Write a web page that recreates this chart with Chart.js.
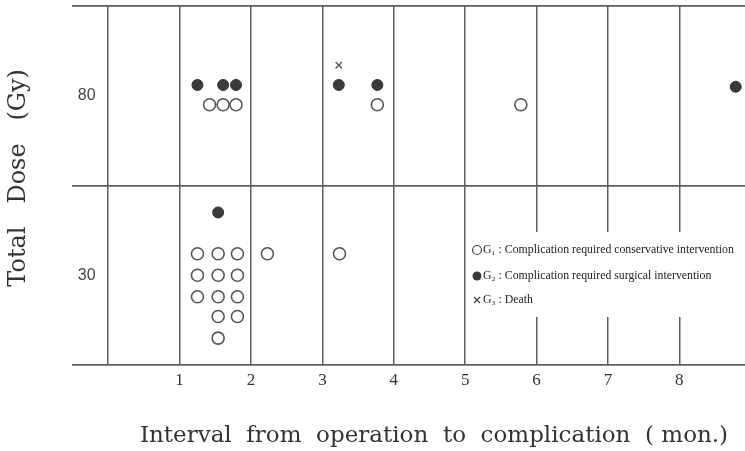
<!DOCTYPE html>
<html>
<head>
<meta charset="utf-8">
<script src="https://cdn.jsdelivr.net/npm/chart.js@4/dist/chart.umd.min.js"></script>
<style>
    body { margin: 0; background: #fff; }
</style>
</head>
<body>
<canvas id="chart" width="745" height="451"></canvas>
<script>
// interval (months) and dose band position
const conservativeX = [1.42, 1.61, 1.79, 3.77, 5.78,
    1.25, 1.54, 1.81, 2.23, 3.24,
    1.25, 1.54, 1.81,
    1.25, 1.54, 1.81,
    1.54, 1.81,
    1.54];
const conservativeY = [1.45, 1.45, 1.45, 1.45, 1.45,
    0.62, 0.62, 0.62, 0.62, 0.62,
    0.50, 0.50, 0.50,
    0.38, 0.38, 0.38,
    0.27, 0.27,
    0.15];
const surgicalX = [1.25, 1.61, 1.79, 3.23, 3.77, 8.79, 1.54];
const surgicalY = [1.56, 1.56, 1.56, 1.56, 1.56, 1.55, 0.85];
const deathX = [3.23];
const deathY = [1.67];

const doseLabels = ['30', '80'];
const monthTicks = [0, 1, 2, 3, 4, 5, 6, 7, 8];
const legendLabels = [
    'G\u2081 : Complication required conservative intervention',
    'G\u2082 : Complication required surgical intervention',
    'G\u2083 : Death'
];

document.addEventListener('DOMContentLoaded', () => {
    const ctx = document.getElementById('chart').getContext('2d');
    const lineColor = '#5e5e5e';

    const toPoints = (xs, ys) => xs.map((x, i) => ({ x, y: ys[i] }));

    // legend sits in a white box over the lower right grid lines
    const legendBox = {
        id: 'legendBox',
        afterDraw(chart) {
            const c = chart.ctx;
            c.save();
            c.fillStyle = '#fff';
            c.fillRect(469, 232, 276, 85);
            c.font = '11.8px "Liberation Serif"';
            c.fillStyle = '#222';
            c.textBaseline = 'middle';
            const rows = [250, 276, 300];
            rows.forEach((y, i) => {
                c.strokeStyle = '#444';
                c.lineWidth = 1.2;
                if (i === 0) {
                    c.beginPath();
                    c.arc(477, y, 4.5, 0, Math.PI * 2);
                    c.stroke();
                } else if (i === 1) {
                    c.beginPath();
                    c.arc(477, y, 4.5, 0, Math.PI * 2);
                    c.fillStyle = '#3a3a3a';
                    c.fill();
                    c.fillStyle = '#222';
                } else {
                    c.beginPath();
                    c.moveTo(474, y - 3);
                    c.lineTo(480, y + 3);
                    c.moveTo(480, y - 3);
                    c.lineTo(474, y + 3);
                    c.stroke();
                }
                c.fillText(legendLabels[i], 483, y);
            });
            c.restore();
        }
    };

    new Chart(ctx, {
        type: 'scatter',
        data: {
            datasets: [{
                label: 'G1',
                data: toPoints(conservativeX, conservativeY),
                pointStyle: 'circle',
                pointRadius: 6,
                backgroundColor: 'rgba(255,255,255,0)',
                borderColor: '#555',
                borderWidth: 1.6
            }, {
                label: 'G2',
                data: toPoints(surgicalX, surgicalY),
                pointStyle: 'circle',
                pointRadius: 5.5,
                backgroundColor: '#3b3b3b',
                borderColor: '#333',
                borderWidth: 1
            }, {
                label: 'G3',
                data: toPoints(deathX, deathY),
                pointStyle: 'crossRot',
                pointRadius: 4.5,
                borderColor: '#555',
                borderWidth: 1.3
            }]
        },
        options: {
            responsive: false,
            animation: false,
            devicePixelRatio: 1,
            layout: { autoPadding: false, padding: { top: 0, left: 0, right: 0, bottom: 0 } },
            plugins: {
                legend: { display: false },
                tooltip: { enabled: false }
            },
            scales: {
                x: {
                    type: 'linear',
                    min: -0.51,
                    max: 8.92,
                    afterBuildTicks: (scale) => {
                        scale.ticks = monthTicks.map(v => ({ value: v }));
                    },
                    border: { display: false },
                    grid: { color: lineColor, lineWidth: 1.5, drawTicks: false },
                    ticks: {
                        padding: 5,
                        color: '#333',
                        font: { family: '"Liberation Serif"', size: 17 },
                        callback: (v) => v === 0 ? '' : v
                    },
                    title: {
                        display: true,
                        text: '       Interval  from  operation  to  complication  ( mon.)',
                        color: '#333',
                        font: { family: '"DejaVu Serif"', size: 23 },
                        padding: { top: 27, bottom: 1 }
                    }
                },
                y: {
                    type: 'linear',
                    min: 0,
                    max: 2,
                    afterBuildTicks: (scale) => {
                        scale.ticks = [0, 0.5, 1, 1.5, 2].map(v => ({ value: v }));
                    },
                    border: { display: false },
                    grid: {
                        color: (c) => Number.isInteger(c.tick.value) ? lineColor : 'rgba(0,0,0,0)',
                        lineWidth: 1.8,
                        drawTicks: false
                    },
                    ticks: {
                        mirror: true,
                        padding: 6,
                        color: '#444',
                        // grid-only ticks get a tiny font so they add no edge padding
                        font: (c) => c.tick && Number.isInteger(c.tick.value)
                            ? { family: '"Liberation Sans"', size: 1, lineHeight: 0 }
                            : { family: '"Liberation Sans"', size: 16 },
                        callback: (v) => Number.isInteger(v) ? '' : doseLabels[Math.floor(v)]
                    },
                    title: {
                        display: true,
                        text: '  Total   Dose   (Gy)',
                        color: '#333',
                        font: { family: '"DejaVu Serif"', size: 24 },
                        padding: { top: 4, bottom: 27 }
                    }
                }
            }
        },
        plugins: [legendBox]
    });
});
</script>
</body>
</html>
